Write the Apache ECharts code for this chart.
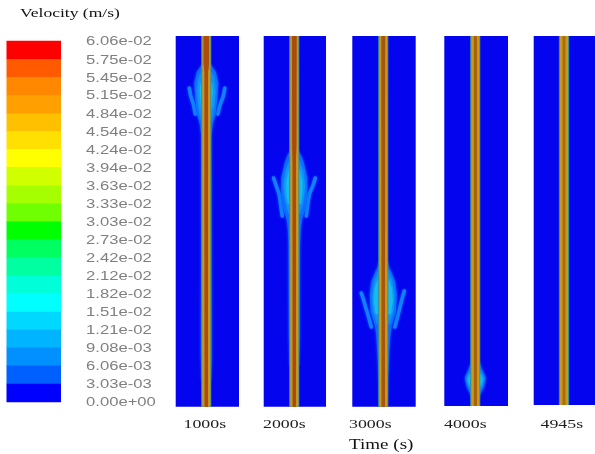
<!DOCTYPE html>
<html><head><meta charset="utf-8">
<style>html,body{margin:0;padding:0;background:#fff}#c{width:595px;height:454px;filter:blur(0.55px)}</style>
<script src="https://cdn.jsdelivr.net/npm/echarts@6/dist/echarts.min.js"></script></head>
<body><div id="c"></div>
<script>
const tickLabels=['6.06e-02','5.75e-02','5.45e-02','5.15e-02','4.84e-02','4.54e-02','4.24e-02','3.94e-02','3.63e-02','3.33e-02','3.03e-02','2.73e-02','2.42e-02','2.12e-02','1.82e-02','1.51e-02','1.21e-02','9.08e-03','6.06e-03','3.03e-03','0.00e+00'];
const tickValues=[0.0606,0.0575,0.0545,0.0515,0.0484,0.0454,0.0424,0.0394,0.0363,0.0333,0.0303,0.0273,0.0242,0.0212,0.0182,0.0151,0.0121,0.00908,0.00606,0.00303,0];
const bandColors=['#ff0000','#ff5a00','#ff8800','#ffa000','#ffc000','#ffe000','#ffff00','#d0ff00','#a6ff00','#70ff00','#00ff00','#00ff60','#00ffa0','#00ffd8','#00ffff','#00d8ff','#00b4ff','#0090ff','#0060ff','#0000ff'];
const timeLabels=['1000s','2000s','3000s','4000s','4945s'];
const axisTitle='Time (s)';
const legendTitle='Velocity (m/s)';

// profiles: [distance below top of panel, half width]
const plumeOuter1=[[28,4],[31,6],[36,9.5],[47,12],[64,11],[77,9.5],[88,6.5],[100,5],[200,5.2],[320,5.5],[345,4.5]];
const plumeMid1=[[36,5],[42,8],[55,9.5],[70,8],[85,5]];
const plumeCore1=[[47,5.5],[55,6.5],[66,5.5],[72,5]];
const fingerL1=[[-17,52],[-15.5,60],[-13,68],[-11,78]];
const fingerR1=[[18.5,52],[17,60],[14,68],[11.5,78]];

const plumeOuter2=[[115,4],[120,7],[126,9.3],[142,13],[159,13],[172,11.5],[182,8],[192,6.5],[209,5.8],[300,5.5],[330,4.5]];
const plumeMid2=[[125,5],[135,9],[150,11],[165,9],[178,5.5]];
const plumeCore2=[[133,5],[145,8],[158,8],[168,6]];
const fingerL2=[[-20.7,142],[-18,150],[-15,159],[-13.5,170],[-12,180]];
const fingerR2=[[21,142],[18.5,150],[15.5,157],[13.5,168],[12,180]];

const plumeOuter3=[[225,4],[232,6],[236,8],[246,12],[259,13.5],[276,12.7],[289,8.5],[299,7],[319,5.8],[339,4.8],[368,3.5]];
const plumeMid3=[[235,5],[245,9],[260,11],[275,10],[288,6]];
const plumeCore3=[[243,5],[252,8.5],[265,9.5],[278,7.5]];
const fingerL3=[[-22,257],[-20,263],[-18,270],[-15,280],[-12,291]];
const fingerR3=[[21,255],[19,262],[17,270],[14.5,280],[11.5,291]];

const plumeOuter4=[[325,3.5],[330,5.5],[334,7],[342,10.5],[351,8.5],[357,5.5],[362,3.5]];
const plumeMid4=[[334,5],[342,8.5],[350,6.5],[355,4.5]];
const plumeCore4=[[338,5.5],[344,7.5],[350,5.5]];

const wallEdge=[[0,5],[371,5]];
const wallGold=[[0,4],[371,4]];
const wallCore1=[[0,2.6],[28,2.6],[36,1.7],[371,1.6]];
const wallCore2=[[0,2.2],[110,2],[125,1.6],[371,1.6]];
const wallCore3=[[0,1.8],[225,1.6],[371,1.6]];
const wallCore4=[[0,1.5],[371,1.5]];
const wallCore5=[[0,1.3],[371,1.3]];

const panels=[
 {left:175.7,right:239,c:206.3,bottom:406.7,outer:plumeOuter1,mid:plumeMid1,core:plumeCore1,fl:fingerL1,fr:fingerR1,wall:wallCore1,wc:'#ad4c0c'},
 {left:263.7,right:326,c:294.3,bottom:406.7,outer:plumeOuter2,mid:plumeMid2,core:plumeCore2,fl:fingerL2,fr:fingerR2,wall:wallCore2,wc:'#a84c0c'},
 {left:352.3,right:415.7,c:383.3,bottom:406.7,outer:plumeOuter3,mid:plumeMid3,core:plumeCore3,fl:fingerL3,fr:fingerR3,wall:wallCore3,wc:'#a6560e'},
 {left:444.3,right:508,c:475.3,bottom:406,outer:plumeOuter4,mid:plumeMid4,core:plumeCore4,wall:wallCore4,wc:'#a8620e'},
 {left:533.7,right:595,c:564,bottom:405,wall:wallCore5,wc:'#aa6e10'}
];
const panelTop=36, BLUE='#0404ee';

function profile(gi,data,color,z,blur){
  return {type:'custom',xAxisIndex:gi,yAxisIndex:gi,z:z,silent:true,clip:true,data:data,
    encode:{x:1,y:0},
    renderItem:function(p,api){
      if(p.dataIndex!==0) return null;
      const pts=[];
      for(const r of data) pts.push(api.coord([-r[1],r[0]]));
      for(let i=data.length-1;i>=0;i--) pts.push(api.coord([data[i][1],data[i][0]]));
      return {type:'polygon',shape:{points:pts},
        style:{fill:color,shadowBlur:blur||0,shadowColor:color}};
    }};
}
function finger(gi,data){
  return {type:'line',xAxisIndex:gi,yAxisIndex:gi,z:2,smooth:0.3,symbol:'none',silent:true,data:data,
    lineStyle:{color:'#1280ff',width:3.6,cap:'round',shadowBlur:3,shadowColor:'#0c60ff'}};
}

const grids=[],xAxes=[],yAxes=[],series=[];
panels.forEach((p,i)=>{
  grids.push({left:p.left,top:panelTop,width:p.right-p.left,height:p.bottom-panelTop,show:true,backgroundColor:BLUE,borderWidth:0});
  xAxes.push({gridIndex:i,type:'value',min:p.left-p.c,max:p.right-p.c,show:false});
  yAxes.push({gridIndex:i,type:'value',min:0,max:p.bottom-panelTop,inverse:true,show:false});
  if(p.fl){series.push(finger(i,p.fl),finger(i,p.fr));}
  if(p.outer){
    series.push(profile(i,p.outer,'#0c6cff',3,3));
    series.push(profile(i,p.mid,'#1290fa',4,3));
    series.push(profile(i,p.core,'#16bcf0',5,3));
  }
  series.push(profile(i,wallEdge,'#3c8c96',6,1));
  series.push(profile(i,wallGold,'#c89a1e',7,0));
  series.push(profile(i,p.wall,p.wc,8,1));
});

// colour key
const k=panels.length;
grids.push({left:6.5,top:40.7,width:54.5,height:361,show:false});
xAxes.push({gridIndex:k,type:'value',min:0,max:1,show:false});
yAxes.push({gridIndex:k,type:'value',min:0,max:0.0606,show:false});
series.push({type:'custom',xAxisIndex:k,yAxisIndex:k,silent:true,clip:false,
  data:bandColors.map((c,i)=>[tickValues[i],tickValues[i+1],i]),
  encode:{y:[0,1]},
  renderItem:function(p,api){
    const a=api.coord([0,api.value(0)]),b=api.coord([1,api.value(1)]);
    return {type:'rect',shape:{x:a[0],y:a[1],width:b[0]-a[0],height:b[1]-a[1]+0.5},style:{fill:bandColors[api.value(2)]}};
  }});
series.push({type:'custom',xAxisIndex:k,yAxisIndex:k,silent:true,clip:false,
  data:tickValues.map((v,i)=>[1,v,i]),
  encode:{x:0,y:1},
  renderItem:function(p,api){
    const a=api.coord([1,api.value(1)]);
    return {type:'text',x:a[0]+25,y:a[1]+1,scaleX:1.28,
      style:{text:tickLabels[api.value(2)],fontFamily:'Liberation Sans',fontSize:13,fill:'#808080',verticalAlign:'middle',align:'left'}};
  }});

const serif='Liberation Serif';
const labelX=[204.5,284,370,465,561.5];
const graphic=[
  {type:'text',x:20,y:6,scaleX:1.3,style:{text:legendTitle,fontFamily:serif,fontSize:13.5,fill:'#111'}}
];
timeLabels.forEach((t,i)=>graphic.push({type:'text',x:labelX[i]-21,y:417.5,scaleX:1.32,
  style:{text:t,fontFamily:serif,fontSize:13.5,fill:'#222'}}));
graphic.push({type:'text',x:349,y:437.5,scaleX:1.27,style:{text:axisTitle,fontFamily:serif,fontSize:15,fill:'#111'}});

const chart=echarts.init(document.getElementById('c'),null,{renderer:'canvas'});
chart.setOption({animation:false,backgroundColor:'#fff',grid:grids,xAxis:xAxes,yAxis:yAxes,series:series,graphic:graphic});
</script></body></html>
